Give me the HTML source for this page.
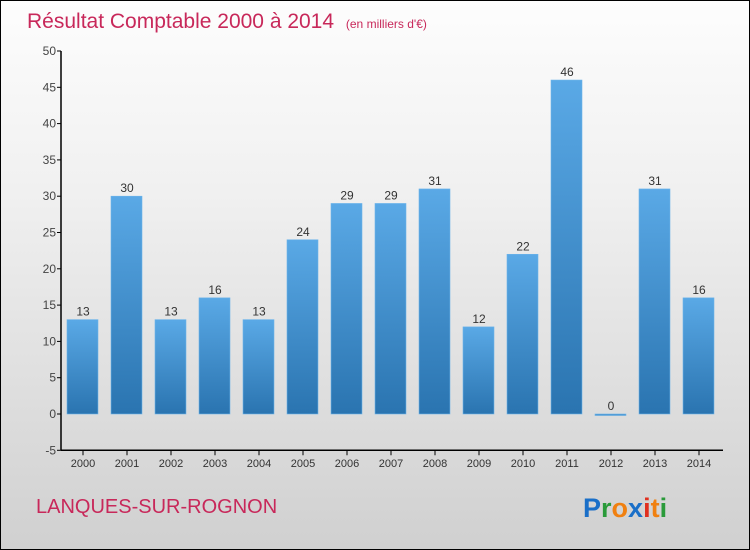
<!DOCTYPE html>
<html><head><meta charset="utf-8"><style>
html,body{margin:0;padding:0}
body{width:750px;height:550px;overflow:hidden}
#c{position:relative;width:748px;height:548px;border:1px solid #000;background:linear-gradient(#fdfdfd,#f0f0f0 35%,#d0d0d0);font-family:"Liberation Sans",sans-serif}
</style></head><body>
<div id="c">
<svg width="748" height="548" style="position:absolute;left:0;top:0" id="svg">
<defs><linearGradient id="bg" x1="0" y1="0" x2="0" y2="1"><stop offset="0" stop-color="#5aa9e6"/><stop offset="1" stop-color="#2a74b0"/></linearGradient></defs>
<text x="26" y="27" font-size="21" fill="#c8285a">Résultat Comptable 2000 à 2014 <tspan font-size="12" dx="6">(en milliers d'€)</tspan></text>
<text x="35" y="512" font-size="20" fill="#c8285a">LANQUES-SUR-ROGNON</text>
<g font-size="27" font-family="Liberation Sans, sans-serif" font-weight="bold">
<text x="582" y="516"><tspan fill="#1a6fc8">P</tspan><tspan fill="#2a9a3a">r</tspan><tspan fill="#f08010">o</tspan><tspan fill="#1a6fc8">x</tspan><tspan fill="#e03020">i</tspan><tspan fill="#f08010">t</tspan><tspan fill="#2a9a3a">i</tspan></text></g>
<g id="plot"></g>
</svg>
</div>
<script>
const categories=["2000","2001","2002","2003","2004","2005","2006","2007","2008","2009","2010","2011","2012","2013","2014"];
const values=[13,30,13,16,13,24,29,29,31,12,22,46,0,31,16];
const yTicks=[-5,0,5,10,15,20,25,30,35,40,45,50];
const NS="http://www.w3.org/2000/svg";
const g=document.getElementById('plot');
const y0=413,ppu=7.26;
function y(v){return y0-v*ppu;}
function x(i){return 81+i*44;}
function mk(t,a){const e=document.createElementNS(NS,t);for(const k in a)e.setAttribute(k,a[k]);g.appendChild(e);return e;}
let ax=mk('line',{x1:60,y1:y(50),x2:60,y2:y(-5),stroke:'#000','stroke-width':1.5});


let bx=mk('line',{x1:60,y1:y(-5),x2:722,y2:y(-5),stroke:'#000','stroke-width':1.5});


yTicks.forEach(v=>{
 mk('line',{x1:56,y1:y(v),x2:60,y2:y(v),stroke:'#000'});
 const t=mk('text',{x:55,y:y(v)+4,'text-anchor':'end','font-size':12,fill:'#444'});t.textContent=v;
 
 
});
categories.forEach((c,i)=>{
 const v=values[i];
 const top=Math.min(y(v),y(0)),h=Math.max(Math.abs(y(v)-y(0)),1.5);
 const r=mk('rect',{x:x(i)-15,y:top,width:31,height:h,fill:'url(#bg)',stroke:'#6db4ea','stroke-width':0.6});
 
 
 const l=mk('text',{x:x(i)+1,y:y(v)-4,'text-anchor':'middle','font-size':12,fill:'#333'});l.textContent=v;
 
 
 mk('line',{x1:x(i)+1,y1:y(-5),x2:x(i)+1,y2:y(-5)+5,stroke:'#000'});
 const t=mk('text',{x:x(i)+1,y:466,'text-anchor':'middle','font-size':11,fill:'#333'});t.textContent=c;
 
 
});
</script>
</body></html>
